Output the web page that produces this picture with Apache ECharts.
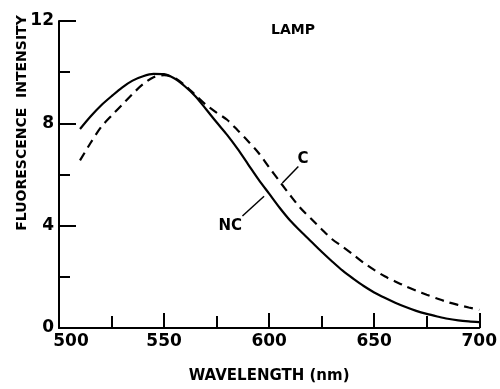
<!DOCTYPE html>
<html><head><meta charset="utf-8">
<script src="https://cdn.jsdelivr.net/npm/echarts@6/dist/echarts.min.js"></script>
<style>html,body{margin:0;padding:0;background:#fff}#c{width:500px;height:389px}</style>
</head><body><div id="c"></div>
<script>
const wavelengths = [510,515,520,525,530,535,540,545,550,555,560,565,570,575,580,585,590,595,600,605,610,615,620,625,630,635,640,645,650,655,660,665,670,675,680,685,690,695,700];
const ncValues = [7.78,8.27,8.7,9.06,9.4,9.67,9.84,9.93,9.92,9.75,9.44,9.05,8.55,8.04,7.55,7.0,6.4,5.8,5.25,4.7,4.2,3.78,3.38,2.98,2.6,2.24,1.93,1.64,1.39,1.18,0.99,0.82,0.67,0.55,0.45,0.36,0.3,0.26,0.23];
const cValues = [6.55,7.23,7.85,8.3,8.72,9.15,9.53,9.8,9.88,9.78,9.48,9.1,8.72,8.42,8.14,7.73,7.3,6.84,6.28,5.73,5.19,4.68,4.27,3.86,3.47,3.18,2.87,2.55,2.27,2.02,1.82,1.63,1.46,1.3,1.15,1.01,0.9,0.8,0.71];
const xTicks = [500,550,600,650,700];
const yTicks = [0,4,8,12];
const annotations = [
  {text:'LAMP', x:611.4, y:11.62, size:14},
  {text:'C', x:616.1, y:6.62, size:15},
  {text:'NC', x:581.5, y:4.0, size:15}
];
const leaders = [
  [[613.9,6.31],[606.3,5.67]],
  [[587.3,4.38],[597.6,5.15]]
];

const chart = echarts.init(document.getElementById('c'), null, {renderer:'canvas'});
const tickFont = {fontFamily:'DejaVu Sans', fontSize:17, fontWeight:'bold', color:'#000'};
chart.setOption({
  animation:false,
  backgroundColor:'#fff',
  grid:{left:59, right:19, top:21, bottom:54},
  xAxis:{
    type:'value', min:500, max:700, interval:50,
    name:'WAVELENGTH (nm)', nameLocation:'middle', nameGap:41,
    nameTextStyle:{fontFamily:'DejaVu Sans', fontWeight:'bold', fontSize:15, color:'#000'},
    axisLine:{show:true, lineStyle:{color:'#000', width:2}},
    axisTick:{show:true, inside:true, length:15, lineStyle:{color:'#000', width:2}},
    minorTick:{show:true, splitNumber:2, length:12, lineStyle:{color:'#000', width:2}},
    splitLine:{show:false},
    axisLabel:{...tickFont, margin:5,
      formatter:v => v===500 ? '{a|500}' : String(v),
      rich:{a:{...tickFont, padding:[0,0,0,24]}}}
  },
  yAxis:{
    type:'value', min:0, max:12, interval:4,
    axisLine:{show:true, lineStyle:{color:'#000', width:2}},
    axisTick:{show:true, inside:true, length:17, lineStyle:{color:'#000', width:2}},
    minorTick:{show:true, splitNumber:2, length:11, lineStyle:{color:'#000', width:2}},
    splitLine:{show:false},
    axisLabel:{...tickFont, margin:5}
  },
  series:[
    {name:'NC', type:'line', data:wavelengths.map((w,i)=>[w,ncValues[i]]), smooth:0.3, showSymbol:false,
     lineStyle:{color:'#000', width:2.2}},
    {name:'C', type:'line', data:wavelengths.map((w,i)=>[w,cValues[i]]), smooth:0.3, showSymbol:false,
     lineStyle:{color:'#000', width:2.2, type:[9,6]}},
    {name:'leaders', type:'lines', coordinateSystem:'cartesian2d', silent:true,
     data:leaders.map(c=>({coords:c})), lineStyle:{color:'#000', width:1.5, opacity:1}},
    {name:'labels', type:'scatter', symbolSize:0, silent:true, itemStyle:{opacity:1},
     data:annotations.map(a=>({value:[a.x,a.y], label:{show:true, formatter:a.text, position:'inside',
       fontFamily:'DejaVu Sans', fontWeight:'bold', fontSize:a.size, color:'#000', opacity:1}}))}
  ],
  graphic:[{type:'text', x:22, y:123, rotation:Math.PI/2,
    style:{text:'FLUORESCENCE  INTENSITY', font:'bold 14px "DejaVu Sans"', fill:'#000', textAlign:'center', textVerticalAlign:'middle'}}]
});
</script></body></html>
